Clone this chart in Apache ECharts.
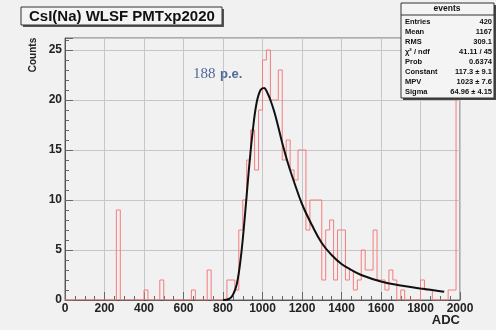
<!DOCTYPE html>
<html><head><meta charset="utf-8">
<script src="https://cdn.jsdelivr.net/npm/echarts@6/dist/echarts.min.js"></script>
<style>html,body{margin:0;padding:0;background:#f1f1f1;}#c{width:496px;height:330px;}</style>
</head><body><div id="c"></div>
<script>
// ---- data ----
var binStart = 0, binWidth = 20;
var counts = [
 0,0,0,0,0,0,0,0,0,0,          // 0-200
 0,0,0,9,0,0,0,0,0,0,          // 200-400
 1,0,0,0,2,0,0,0,0,0,          // 400-600
 0,0,1,0,0,0,3,0,0,0,          // 600-800
 0,2,2,1,7,10,14,17,13,19,     // 800-1000
 24,25,20,20,23,14,16,13,12,15,// 1000-1200
 15,7,10,10,10,2,7,8,2,7,      // 1200-1400
 7,2,3,1,2,5,3,3,7,2,          // 1400-1600
 2,1,3,2,0,1,0,0,0,0,          // 1600-1800
 2,1,1,0,0,0,0,1,1,30          // 1800-2000
];
var fitX = [800,830,850,870,890,910,930,950,970,990,1008,1025,1040,1060,1080,1100,1130,1160,1200,1250,1300,1350,1400,1450,1500,1600,1700,1800,1900,1920];
var fitY = [0,0.1,0.5,1.6,4.2,8.2,12.8,16.8,19.7,21.0,21.2,20.7,20.0,18.8,17.3,15.7,13.6,11.8,9.6,7.5,5.7,4.5,3.6,3.0,2.5,1.85,1.45,1.15,0.88,0.82];
var xTicks = [0,200,400,600,800,1000,1200,1400,1600,1800,2000];
var yTicks = [0,5,10,15,20,25];
var statsLabels = ['Entries','Mean','RMS','\u03c7\u00b2 / ndf','Prob','Constant','MPV','Sigma'];
var statsValues = ['420','1167','309.1','41.11 / 45','0.6374','117.3 \u00b1 9.1','1023 \u00b1 7.6','64.96 \u00b1 4.15'];

// ---- build ----
var histData = [];
for (var i = 0; i < counts.length; i++) histData.push([binStart + i*binWidth, counts[i]]);
histData.push([binStart + counts.length*binWidth, counts[counts.length-1]]);
var fitData = fitX.map(function(x,i){return [x, fitY[i]];});

var font = '"Liberation Sans", Arial, sans-serif';
var gL = 65, gT = 38, gW = 395, gH = 262;

var graphics = [];
// title box
graphics.push({type:'rect', shape:{x:23,y:9,width:201,height:18}, style:{fill:'#555'}, z:10});
graphics.push({type:'rect', shape:{x:21,y:7,width:201,height:18}, style:{fill:'#f4f4f4', stroke:'#333', lineWidth:1}, z:11});
graphics.push({type:'text', x:29, y:16.5, style:{text:'CsI(Na) WLSF PMTxp2020', font:'bold 15px '+font, fill:'#111', textVerticalAlign:'middle'}, z:12});
// stats box
graphics.push({type:'rect', shape:{x:403,y:5,width:93,height:95}, style:{fill:'#444'}, z:10});
graphics.push({type:'rect', shape:{x:401,y:3,width:93,height:95}, style:{fill:'#f4f4f4', stroke:'#333', lineWidth:1}, z:11});
graphics.push({type:'line', shape:{x1:401,y1:15,x2:494,y2:15}, style:{stroke:'#333', lineWidth:1}, z:12});
graphics.push({type:'text', x:447, y:9, style:{text:'events', font:'bold 8.5px '+font, fill:'#111', textAlign:'center', textVerticalAlign:'middle'}, z:12});
var rowY = [22,32,42,51.5,62,72,82,92];
for (var r = 0; r < statsLabels.length; r++) {
  graphics.push({type:'text', x:405, y:rowY[r], style:{text:statsLabels[r], font:'bold 7.5px '+font, fill:'#111', textVerticalAlign:'middle'}, z:12});
  graphics.push({type:'text', x:492, y:rowY[r], style:{text:statsValues[r], font:'bold 7.5px '+font, fill:'#111', textAlign:'right', textVerticalAlign:'middle'}, z:12});
}
// axis titles
graphics.push({type:'text', x:33, y:55, rotation:Math.PI/2, style:{text:'Counts', font:'bold 10px '+font, fill:'#222', textAlign:'center', textVerticalAlign:'middle'}, z:12});
graphics.push({type:'text', x:460, y:320, style:{text:'ADC', font:'bold 13px '+font, fill:'#222', textAlign:'right', textVerticalAlign:'middle'}, z:12});
// annotation
graphics.push({type:'text', x:193, y:74, style:{text:'188', font:'15px "Liberation Serif", "Times New Roman", serif', fill:'#51689a', textVerticalAlign:'middle'}, z:12});
graphics.push({type:'text', x:220, y:74, style:{text:'p.e.', font:'bold 13px '+font, fill:'#51689a', textVerticalAlign:'middle'}, z:12});

var chart = echarts.init(document.getElementById('c'), null, {renderer:'canvas'});
chart.setOption({
  backgroundColor:'#f1f1f1',
  animation:false,
  grid:{left:gL, top:gT, width:gW, height:gH, show:true, borderColor:'#666', borderWidth:1, backgroundColor:'transparent'},
  xAxis:{type:'value', min:xTicks[0], max:xTicks[xTicks.length-1], interval:200,
    axisLine:{show:true, onZero:false, lineStyle:{color:'#555', width:1}},
    axisTick:{show:true, inside:true, length:8, lineStyle:{color:'#666'}},
    minorTick:{show:true, splitNumber:4, length:4, lineStyle:{color:'#666'}},
    splitLine:{show:true, lineStyle:{color:'#c6c6c6', width:1}},
    axisLabel:{margin:3, color:'#222', fontFamily:font, fontWeight:'bold', fontSize:12, showMaxLabel:true,
      formatter:function(v){return String(v);}}
  },
  yAxis:{type:'value', min:0, max:26.2, interval:5,
    axisLine:{show:true, onZero:false, lineStyle:{color:'#555', width:1}},
    axisTick:{show:true, inside:true, length:8, lineStyle:{color:'#666'}},
    minorTick:{show:true, splitNumber:5, length:4, lineStyle:{color:'#666'}},
    splitLine:{show:true, lineStyle:{color:'#c6c6c6', width:1}},
    axisLabel:{margin:3, color:'#222', fontFamily:font, fontWeight:'bold', fontSize:12,
      formatter:function(v){return yTicks.indexOf(v) >= 0 ? String(v) : '';}}
  },
  series:[
    {type:'line', data:histData, step:'end', symbol:'none', clip:true,
     lineStyle:{color:'#f47c7c', width:1}, z:3},
    {type:'line', data:fitData, smooth:0.4, symbol:'none', clip:true,
     lineStyle:{color:'#111', width:2}, z:4}
  ],
  graphic:graphics
});
</script>
</body></html>
